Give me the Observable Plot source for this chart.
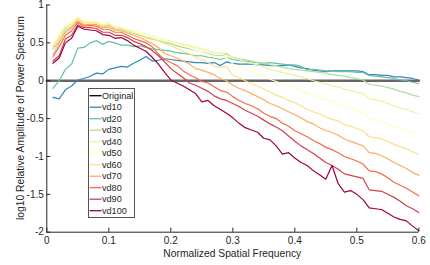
<!DOCTYPE html>
<html><head><meta charset="utf-8">
<style>body{margin:0;background:#fff} svg{display:block}</style>
<script src="https://cdn.jsdelivr.net/npm/d3@7"></script>
<script src="https://cdn.jsdelivr.net/npm/@observablehq/plot@0.6"></script>
</head><body><div id="chart"></div>
<script>
const freq = [0.01,0.02,0.03,0.04,0.05,0.06,0.07,0.08,0.09,0.10,
0.11,0.12,0.13,0.14,0.15,0.16,0.17,0.18,0.19,0.20,
0.21,0.22,0.23,0.24,0.25,0.26,0.27,0.28,0.29,0.30,
0.31,0.32,0.33,0.34,0.35,0.36,0.37,0.38,0.39,0.40,
0.41,0.42,0.43,0.44,0.45,0.46,0.47,0.48,0.49,0.50,
0.51,0.52,0.53,0.54,0.55,0.56,0.57,0.58,0.59,0.60];
const originalFreq = [0, 0.6];
const originalValues = [0, 0];

const vd10 = [-0.22,-0.24,-0.12,-0.07,0.01,0.03,0.06,0.10,0.09,0.15,
0.17,0.19,0.18,0.23,0.27,0.32,0.26,0.27,0.29,0.28,
0.27,0.26,0.25,0.24,0.24,0.23,0.24,0.20,0.25,0.23,
0.22,0.22,0.22,0.21,0.21,0.20,0.20,0.20,0.21,0.19,
0.17,0.16,0.14,0.13,0.12,0.13,0.13,0.13,0.13,0.13,
0.12,0.08,0.08,0.07,0.07,0.05,0.05,0.04,0.03,0.01];
const vd20 = [-0.10,0.00,0.15,0.22,0.43,0.44,0.50,0.53,0.48,0.52,
0.50,0.47,0.47,0.45,0.46,0.44,0.42,0.41,0.40,0.39,
0.37,0.36,0.35,0.33,0.33,0.31,0.30,0.28,0.31,0.28,
0.27,0.26,0.25,0.24,0.23,0.24,0.23,0.22,0.21,0.21,
0.19,0.14,0.15,0.14,0.13,0.13,0.12,0.12,0.12,0.11,
0.11,0.07,0.06,0.05,0.04,0.03,0.01,0.00,-0.02,-0.04];
const vd30 = [0.35,0.50,0.67,0.71,0.79,0.74,0.74,0.74,0.71,0.73,
0.68,0.67,0.65,0.62,0.60,0.57,0.55,0.53,0.51,0.49,
0.46,0.44,0.42,0.40,0.38,0.36,0.34,0.33,0.35,0.31,
0.29,0.28,0.26,0.24,0.23,0.21,0.20,0.18,0.16,0.15,
0.14,0.13,0.12,0.11,0.10,0.08,0.07,0.06,0.04,0.03,
0.01,-0.05,-0.06,-0.07,-0.09,-0.11,-0.14,-0.16,-0.19,-0.21];
const vd40 = [0.45,0.58,0.72,0.75,0.83,0.77,0.77,0.77,0.74,0.76,
0.71,0.70,0.68,0.66,0.64,0.61,0.59,0.56,0.54,0.52,
0.50,0.48,0.46,0.44,0.42,0.39,0.37,0.36,0.37,0.31,
0.28,0.25,0.23,0.21,0.18,0.15,0.13,0.11,0.09,0.07,
0.05,0.03,0.00,-0.02,-0.04,-0.07,-0.08,-0.11,-0.13,-0.15,
-0.17,-0.24,-0.25,-0.27,-0.30,-0.33,-0.36,-0.38,-0.41,-0.44];
const vd50 = [0.50,0.62,0.75,0.77,0.85,0.79,0.78,0.78,0.75,0.77,
0.72,0.71,0.68,0.66,0.64,0.61,0.59,0.56,0.53,0.51,
0.49,0.46,0.44,0.40,0.38,0.35,0.31,0.30,0.31,0.22,
0.19,0.16,0.12,0.09,0.06,0.02,-0.01,-0.04,-0.06,-0.10,
-0.13,-0.16,-0.19,-0.22,-0.25,-0.28,-0.30,-0.34,-0.36,-0.39,
-0.42,-0.50,-0.51,-0.54,-0.57,-0.61,-0.63,-0.65,-0.68,-0.70];
const vd60 = [0.46,0.56,0.70,0.73,0.82,0.77,0.76,0.76,0.73,0.74,
0.70,0.69,0.66,0.64,0.61,0.58,0.56,0.53,0.49,0.46,
0.43,0.39,0.36,0.31,0.28,0.24,0.19,0.18,0.19,0.07,
0.04,0.00,-0.04,-0.07,-0.11,-0.15,-0.19,-0.22,-0.26,-0.29,
-0.33,-0.38,-0.41,-0.44,-0.48,-0.51,-0.53,-0.58,-0.60,-0.63,
-0.66,-0.74,-0.75,-0.77,-0.80,-0.84,-0.87,-0.90,-0.94,-0.97];
const vd70 = [0.42,0.52,0.64,0.70,0.79,0.74,0.74,0.74,0.70,0.71,
0.67,0.66,0.63,0.60,0.57,0.53,0.49,0.44,0.36,0.33,
0.30,0.26,0.22,0.16,0.14,0.11,0.08,0.03,0.00,-0.06,
-0.10,-0.13,-0.17,-0.21,-0.25,-0.30,-0.33,-0.37,-0.41,-0.45,
-0.49,-0.54,-0.57,-0.62,-0.66,-0.68,-0.72,-0.77,-0.80,-0.83,
-0.86,-0.95,-0.96,-0.99,-1.03,-1.08,-1.12,-1.16,-1.21,-1.25];
const vd80 = [0.32,0.45,0.60,0.66,0.77,0.72,0.73,0.72,0.68,0.68,
0.64,0.64,0.60,0.56,0.53,0.50,0.45,0.35,0.28,0.24,
0.20,0.13,0.08,0.04,-0.01,-0.03,-0.08,-0.13,-0.15,-0.21,
-0.26,-0.30,-0.33,-0.37,-0.43,-0.47,-0.50,-0.56,-0.60,-0.66,
-0.70,-0.74,-0.79,-0.83,-0.88,-0.91,-0.95,-1.00,-1.03,-1.06,
-1.10,-1.19,-1.20,-1.23,-1.28,-1.34,-1.38,-1.42,-1.47,-1.52];
const vd90 = [0.26,0.33,0.55,0.60,0.74,0.70,0.70,0.69,0.64,0.64,
0.60,0.60,0.57,0.52,0.49,0.45,0.40,0.33,0.25,0.16,
0.10,0.04,-0.03,-0.06,-0.10,-0.14,-0.20,-0.24,-0.26,-0.30,
-0.34,-0.39,-0.43,-0.47,-0.52,-0.57,-0.61,-0.66,-0.73,-0.80,
-0.86,-0.91,-0.96,-1.02,-1.08,-1.12,-1.17,-1.23,-1.25,-1.27,
-1.29,-1.44,-1.45,-1.46,-1.50,-1.54,-1.59,-1.65,-1.69,-1.74];
const vd100 = [0.23,0.30,0.50,0.56,0.72,0.68,0.67,0.66,0.61,0.60,
0.56,0.57,0.53,0.47,0.43,0.39,0.31,0.22,0.11,0.01,
-0.03,-0.07,-0.12,-0.17,-0.28,-0.26,-0.33,-0.38,-0.43,-0.49,
-0.56,-0.62,-0.65,-0.68,-0.76,-0.78,-0.86,-0.97,-0.95,-1.02,
-1.08,-1.12,-1.19,-1.24,-1.30,-1.12,-1.36,-1.47,-1.45,-1.50,
-1.57,-1.68,-1.69,-1.70,-1.75,-1.80,-1.83,-1.85,-1.92,-1.98];

const seriesNames = ["vd10","vd20","vd30","vd40","vd50","vd60","vd70","vd80","vd90","vd100"];
const seriesValues = [vd10,vd20,vd30,vd40,vd50,vd60,vd70,vd80,vd90,vd100];
const seriesColors = ["#3288bd","#66c2a5","#abdda4","#e6f598","#ffffbf","#fee08b","#fdae61","#f46d43","#d53e4f","#9e0142"];
const legendLabels = ["Original", ...seriesNames];
const legendColors = ["#000000", ...seriesColors];
const xTicks = [0,0.1,0.2,0.3,0.4,0.5,0.6];
const yTicks = [-2,-1.5,-1,-0.5,0,0.5,1];

const rows = [];
seriesNames.forEach((name, i) => seriesValues[i].forEach((v, j) => rows.push({name, f: freq[j], v})));
const origRows = originalFreq.map((f, i) => ({f, v: originalValues[i]}));

const W = 430, H = 265, mL = 46.3, mR = 11.7, mT = 4.5, mB = 33.3;
const font = "'Liberation Sans', Arial, Helvetica, sans-serif";
const axisColor = "#262626";

const plot = Plot.plot({
  width: W, height: H,
  marginLeft: mL, marginRight: mR, marginTop: mT, marginBottom: mB,
  style: {fontFamily: font, fontSize: "10px", color: axisColor, background: "#fff"},
  x: {domain: [0, 0.6]},
  y: {domain: [-2, 1]},
  color: {domain: seriesNames, range: seriesColors},
  marks: [
    Plot.axisY({ticks: yTicks, tickSize: 0, tickPadding: 3, tickFormat: d => String(d), label: null}),
    Plot.axisX({ticks: xTicks, tickSize: 0, tickPadding: 5, tickFormat: d => String(d), label: null}),
    Plot.line(origRows, {x: "f", y: "v", stroke: "#666666", strokeWidth: 2.6}),
    Plot.line(rows, {x: "f", y: "v", z: "name", stroke: "name", strokeWidth: 1.2}),
    Plot.ruleY(yTicks, {stroke: axisColor, strokeWidth: 1, insetRight: W - mL - mR - 4}),
    Plot.ruleX(xTicks, {stroke: axisColor, strokeWidth: 1, insetTop: H - mT - mB - 4}),
    Plot.ruleX([0], {stroke: axisColor, strokeWidth: 1}),
    Plot.ruleY([-2], {stroke: axisColor, strokeWidth: 1})
  ]
});

const svg = d3.select(plot);
svg.append("text")
  .attr("x", (mL + W - mR) / 2).attr("y", 257.4)
  .attr("text-anchor", "middle")
  .attr("font-family", font).attr("font-size", 10.3).attr("fill", axisColor)
  .text("Normalized Spatial Frequency");
svg.append("text")
  .attr("transform", `translate(23.5,${(mT + H - mB) / 2}) rotate(-90)`)
  .attr("text-anchor", "middle")
  .attr("font-family", font).attr("font-size", 10.3).attr("fill", axisColor)
  .text("log10 Relative Amplitude of Power Spectrum");

const lg = svg.append("g").attr("text-anchor", "start");
lg.append("rect").attr("x", 88.5).attr("y", 88.5).attr("width", 46).attr("height", 129)
  .attr("fill", "#fff").attr("stroke", "#555").attr("stroke-width", 1);
legendLabels.forEach((lab, i) => {
  const y = 95.7 + i * 11.5;
  lg.append("line").attr("x1", 89.5).attr("x2", 101.5).attr("y1", y).attr("y2", y)
    .attr("stroke", legendColors[i]).attr("stroke-width", 1.3);
  lg.append("text").attr("x", 102).attr("y", y).attr("dy", "0.35em")
    .attr("text-anchor", "start")
    .attr("font-family", font).attr("font-size", 9.1).attr("fill", axisColor)
    .text(lab);
});

document.getElementById("chart").appendChild(plot);
</script>
</body></html>
